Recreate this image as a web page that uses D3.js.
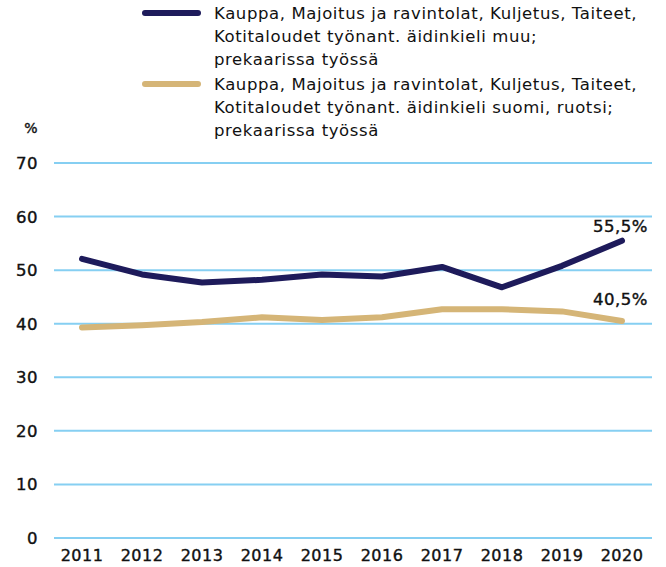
<!DOCTYPE html>
<html>
<head>
<meta charset="utf-8">
<script src="https://cdn.jsdelivr.net/npm/d3@7"></script>
<style>
  body { margin: 0; background: #fff; }
  text { font-family: "DejaVu Sans", sans-serif; fill: #111; }
</style>
</head>
<body>
<svg width="666" height="567"></svg>
<script>
// data
var years = [2011, 2012, 2013, 2014, 2015, 2016, 2017, 2018, 2019, 2020];
var muu = [52.1, 49.2, 47.7, 48.2, 49.2, 48.8, 50.6, 46.8, 50.8, 55.5];
var suomi = [39.3, 39.7, 40.3, 41.2, 40.7, 41.2, 42.7, 42.7, 42.3, 40.5];
var yTicks = [0, 10, 20, 30, 40, 50, 60, 70];
var seriesNames = [
    ["Kauppa, Majoitus ja ravintolat, Kuljetus, Taiteet,", "Kotitaloudet työnant. äidinkieli muu;", "prekaarissa työssä"],
    ["Kauppa, Majoitus ja ravintolat, Kuljetus, Taiteet,", "Kotitaloudet työnant. äidinkieli suomi, ruotsi;", "prekaarissa työssä"]
];
var endLabels = ["55,5%", "40,5%"];

var svg = d3.select("svg");
var colours = ["#1e1b5b", "#d5b577"];

// scales
var x = d3.scalePoint().domain(years).range([82, 622]);
var y = d3.scaleLinear().domain([0, 70]).range([538, 163]);

// gridlines
svg.append("g").selectAll("line")
    .data(yTicks)
    .enter().append("line")
    .attr("x1", 54).attr("x2", 652)
    .attr("y1", d => y(d)).attr("y2", d => y(d))
    .attr("stroke", "#86cff2")
    .attr("stroke-width", 2);

// y labels
svg.append("g").selectAll("text")
    .data(yTicks)
    .enter().append("text")
    .attr("x", 38)
    .attr("y", d => y(d))
    .attr("dy", "0.36em")
    .attr("text-anchor", "end")
    .style("font-size", "16.5px")
    .style("letter-spacing", "0.5px")
    .style("stroke", "#111").style("stroke-width", 0.4)
    .text(d => d);

svg.append("text")
    .attr("x", 31).attr("y", 128)
    .attr("dy", "0.35em")
    .attr("text-anchor", "middle")
    .style("font-size", "14px")
    .style("stroke", "#111").style("stroke-width", 0.4)
    .text("%");

// x labels
svg.append("g").selectAll("text")
    .data(years)
    .enter().append("text")
    .attr("x", d => x(d))
    .attr("y", 561)
    .attr("text-anchor", "middle")
    .style("font-size", "16px")
    .style("letter-spacing", "0.5px")
    .style("stroke", "#111").style("stroke-width", 0.4)
    .text(d => d);

// lines
var line = d3.line()
    .x((d, i) => x(years[i]))
    .y(d => y(d));

[muu, suomi].forEach(function (s, k) {
    svg.append("path")
        .datum(s)
        .attr("d", line)
        .attr("fill", "none")
        .attr("stroke", colours[k])
        .attr("stroke-width", 6)
        .attr("stroke-linecap", "round")
        .attr("stroke-linejoin", "round");

    svg.append("text")
        .attr("x", 648)
        .attr("y", k == 0 ? 232 : 305)
        .attr("text-anchor", "end")
        .style("font-size", "16.5px")
        .style("letter-spacing", "0.5px")
        .style("stroke", "#111").style("stroke-width", 0.4)
        .text(endLabels[k]);
});

// legend
var legend = svg.append("g");
seriesNames.forEach(function (lines, k) {
    var top = k == 0 ? 13 : 84;
    legend.append("line")
        .attr("x1", 145).attr("x2", 198)
        .attr("y1", top).attr("y2", top)
        .attr("stroke", colours[k])
        .attr("stroke-width", 6)
        .attr("stroke-linecap", "round");
    lines.forEach(function (t, j) {
        legend.append("text")
            .attr("x", 214)
            .attr("y", top + j * 23)
            .attr("dy", "0.35em")
            .style("font-size", "16.5px")
            .style("letter-spacing", "0.6px")
            .text(t);
    });
});
</script>
</body>
</html>
